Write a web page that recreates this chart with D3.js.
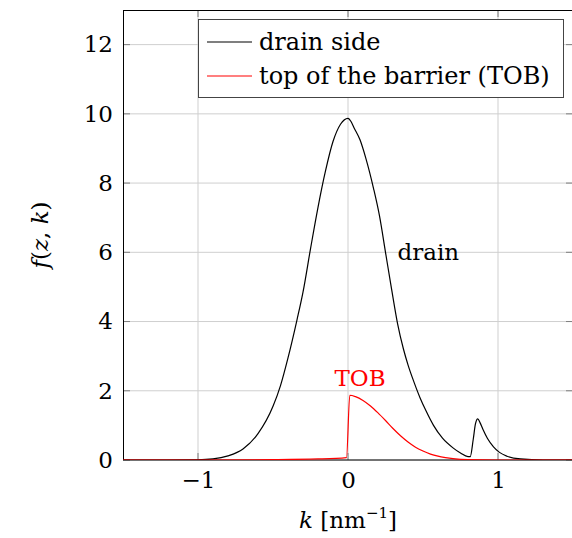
<!DOCTYPE html>
<html>
<head>
<meta charset="utf-8">
<script src="https://cdn.jsdelivr.net/npm/d3@7"></script>
<style>
  html, body { margin: 0; padding: 0; background: #fff; }
  svg { display: block; }
  svg text { font-family: "DejaVu Serif", serif; fill: #000; }
</style>
</head>
<body>
<svg id="chart" width="572" height="538"></svg>
<script>
// Distribution function f(z,k) at two positions along the channel
const kDrain = [-1.5, -1.2, -1.0, -0.9, -0.8, -0.7, -0.6, -0.5, -0.45, -0.4, -0.34, -0.3, -0.25, -0.2, -0.15, -0.1, -0.05, 0.0, 0.02, 0.04, 0.08, 0.12, 0.17, 0.21, 0.25, 0.29, 0.33, 0.37, 0.40, 0.44, 0.48, 0.52, 0.57, 0.63, 0.70, 0.75, 0.80, 0.815, 0.835, 0.85, 0.865, 0.88, 0.90, 0.93, 0.97, 1.01, 1.06, 1.15, 1.3, 1.5];
const fDrain = [0, 0, 0.005, 0.03, 0.12, 0.32, 0.76, 1.55, 2.15, 2.95, 4.05, 4.85, 6.1, 7.3, 8.35, 9.2, 9.7, 9.87, 9.78, 9.6, 9.25, 8.7, 7.85, 7.05, 6.0, 4.95, 3.95, 3.2, 2.75, 2.25, 1.8, 1.42, 1.0, 0.63, 0.35, 0.2, 0.1, 0.1, 0.6, 1.05, 1.19, 1.08, 0.88, 0.62, 0.38, 0.22, 0.11, 0.03, 0, 0];

const kTob = [-1.5, -1.0, -0.5, -0.2, -0.01, 0.012, 0.05, 0.1, 0.15, 0.2, 0.25, 0.3, 0.35, 0.4, 0.45, 0.5, 0.55, 0.6, 0.65, 0.7, 0.8, 1.0, 1.5];
const fTob = [0, 0, 0.01, 0.03, 0.07, 1.87, 1.83, 1.72, 1.56, 1.36, 1.14, 0.91, 0.7, 0.52, 0.37, 0.26, 0.17, 0.11, 0.07, 0.04, 0.01, 0, 0];

const xTicks = [-1, 0, 1];
const yTicks = [0, 2, 4, 6, 8, 10, 12];
const seriesNames = ["drain side", "top of the barrier (TOB)"];
const seriesColors = ["#000000", "#ff0000"];

const FONT = '"DejaVu Serif", serif';
const FS = "23px";
const svg = d3.select("#chart");
const plot = { left: 123, top: 10, width: 450, height: 450 };

const x = d3.scaleLinear().domain([-1.5, 1.5]).range([plot.left, plot.left + plot.width]);
const y = d3.scaleLinear().domain([0, 13]).range([plot.top + plot.height, plot.top]);

svg.append("defs").append("clipPath").attr("id", "clip")
  .append("rect").attr("x", plot.left).attr("y", plot.top)
  .attr("width", plot.width).attr("height", plot.height);

// grid
const grid = svg.append("g");
grid.selectAll(".gx").data(xTicks).enter().append("line")
  .attr("x1", d => x(d)).attr("x2", d => x(d))
  .attr("y1", plot.top).attr("y2", plot.top + plot.height)
  .attr("stroke", "#cfcfcf").attr("stroke-width", 1);
grid.selectAll(".gy").data(yTicks).enter().append("line")
  .attr("x1", plot.left).attr("x2", plot.left + plot.width)
  .attr("y1", d => y(d)).attr("y2", d => y(d))
  .attr("stroke", "#cfcfcf").attr("stroke-width", 1);

// axes: labels outside, ticks pointing inward on every side
const tickLen = 7;
const xAxisB = d3.axisBottom(x).tickValues(xTicks).tickSize(0).tickPadding(12)
  .tickFormat(d => d < 0 ? "\u2212" + Math.abs(d) : String(d));
const yAxisL = d3.axisLeft(y).tickValues(yTicks).tickSize(0).tickPadding(10);

const gx = svg.append("g").attr("transform", `translate(0,${plot.top + plot.height})`).call(xAxisB);
const gy = svg.append("g").attr("transform", `translate(${plot.left},0)`).call(yAxisL);
[gx, gy].forEach(g => {
  g.select(".domain").remove();
  g.attr("font-family", null).attr("font-size", null);
  g.selectAll("text").style("font-family", FONT).style("font-size", FS).attr("fill", "#000");
});

const ticks = svg.append("g").attr("stroke", "#7f7f7f").attr("stroke-width", 1);
xTicks.forEach(t => {
  ticks.append("line").attr("x1", x(t)).attr("x2", x(t)).attr("y1", plot.top + plot.height).attr("y2", plot.top + plot.height - tickLen);
  ticks.append("line").attr("x1", x(t)).attr("x2", x(t)).attr("y1", plot.top).attr("y2", plot.top + tickLen);
});
yTicks.forEach(t => {
  ticks.append("line").attr("x1", plot.left).attr("x2", plot.left + tickLen).attr("y1", y(t)).attr("y2", y(t));
  ticks.append("line").attr("x1", plot.left + plot.width).attr("x2", plot.left + plot.width - tickLen).attr("y1", y(t)).attr("y2", y(t));
});

// frame
svg.append("rect").attr("x", plot.left + 0.5).attr("y", plot.top + 0.5)
  .attr("width", plot.width).attr("height", plot.height - 0.5)
  .attr("fill", "none").attr("stroke", "#000").attr("stroke-width", 1);

// curves
const line = d3.line().x(d => x(d[0])).y(d => y(d[1])).curve(d3.curveMonotoneX);
const series = [d3.zip(kDrain, fDrain), d3.zip(kTob, fTob)];
const lines = svg.append("g").attr("clip-path", "url(#clip)");
series.forEach((s, i) => {
  lines.append("path").datum(s).attr("d", line)
    .attr("fill", "none").attr("stroke", seriesColors[i]).attr("stroke-width", 1.2);
});

// in-plot labels
svg.append("text").attr("x", x(0.33)).attr("y", y(6)).attr("dy", "0.35em")
  .style("font-size", FS).text("drain");
svg.append("text").attr("x", x(0.08)).attr("y", y(2.37)).attr("dy", "0.35em")
  .attr("text-anchor", "middle").style("font-size", FS).style("fill", "#ff0000").text("TOB");

// legend
const lg = svg.append("g");
lg.append("rect").attr("x", 198.5).attr("y", 19.5).attr("width", 365).attr("height", 78)
  .attr("fill", "#fff").attr("stroke", "#444").attr("stroke-width", 1);
seriesNames.forEach((name, i) => {
  const cy = 42 + i * 34;
  lg.append("line").attr("x1", 207).attr("x2", 252).attr("y1", cy).attr("y2", cy)
    .attr("stroke", seriesColors[i]).attr("stroke-width", 1.2);
  lg.append("text").attr("x", 259).attr("y", cy).attr("dy", "0.32em")
    .style("font-size", "24px").text(name);
});

// axis titles
const xt = svg.append("text").attr("x", x(0)).attr("y", 528).attr("text-anchor", "middle").style("font-size", FS);
xt.append("tspan").style("font-style", "italic").text("k");
xt.append("tspan").text(" [nm");
xt.append("tspan").attr("dy", -10).style("font-size", "15px").text("\u22121");
xt.append("tspan").attr("dy", 10).text("]");

const yt = svg.append("text").attr("transform", `translate(48,${y(6.5)}) rotate(-90)`)
  .attr("text-anchor", "middle").style("font-size", FS);
yt.append("tspan").style("font-style", "italic").text("f");
yt.append("tspan").text("(");
yt.append("tspan").style("font-style", "italic").text("z");
yt.append("tspan").text(", ");
yt.append("tspan").style("font-style", "italic").text("k");
yt.append("tspan").text(")");
</script>
</body>
</html>
